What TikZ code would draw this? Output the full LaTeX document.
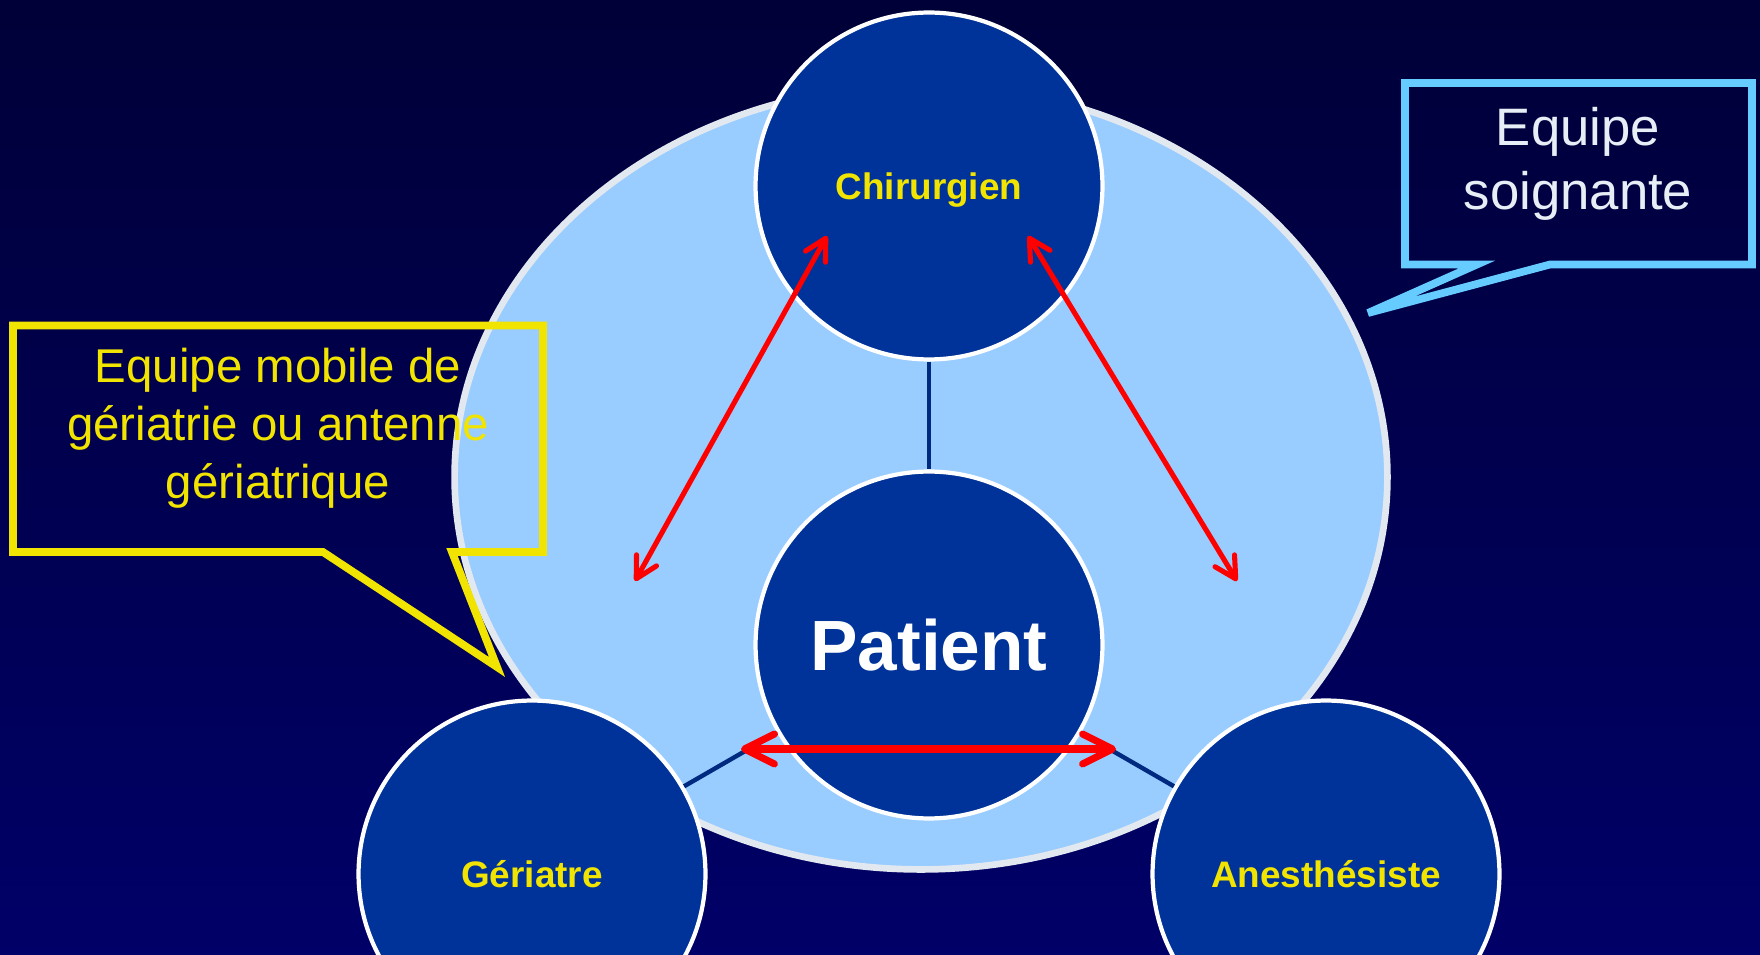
\documentclass[tikz,border=0pt]{standalone}
\usepackage{fontspec}
\setmainfont{Liberation Sans}
\usetikzlibrary{arrows.meta}

\definecolor{bgtop}{RGB}{0,0,56}
\definecolor{bgbottom}{RGB}{0,0,104}
\definecolor{teamfill}{RGB}{153,204,255}
\definecolor{teamedge}{RGB}{226,232,240}
\definecolor{rolefill}{RGB}{0,51,153}
\definecolor{linkcol}{RGB}{0,42,128}
\definecolor{gold}{RGB}{240,228,0}
\definecolor{sky}{RGB}{102,204,255}
\definecolor{paletext}{RGB}{232,238,245}

\tikzset{
  role/.style={circle, draw=white, line width=2.4pt, fill=rolefill, minimum size=6.94cm,
    inner sep=0pt, text depth=0pt, text=gold, font=\fontsize{21}{25}\selectfont\bfseries},
  link/.style={draw=linkcol, line width=2.5pt},
  collab/.style={red, line width=2.9pt,
    {Straight Barb[length=12pt,width=13pt,round]}-{Straight Barb[length=12pt,width=13pt,round]}},
  callout/.style={line width=4.4pt, line join=miter},
}

\begin{document}
\begin{tikzpicture}[x=0.02cm, y=-0.02cm]

  \useasboundingbox (0,0) rectangle (1760,955);
  \clip (0,0) rectangle (1760,955);
  \shade[top color=bgtop, bottom color=bgbottom] (0,0) rectangle (1760,955);

  \draw[teamedge, fill=teamfill, line width=3.8pt] (921,477) ellipse[x radius=9.33cm, y radius=7.85cm];

  \node[role] (chir) at (929,186) {Chirurgien};
  \node[role, text=white, font=\fontsize{40.5}{46}\selectfont\bfseries] (patient) at (929,645) {Patient};
  \node[role] (geria) at (532,874) {Gériatre};
  \node[role] (anest) at (1326,874) {Anesthésiste};

  \draw[link] (chir) -- (patient);
  \draw[link] (patient) -- (geria);
  \draw[link] (patient) -- (anest);

  \coordinate (chirL) at (827,236);
  \coordinate (geriaU) at (635,581);
  \coordinate (chirR) at (1028,236);
  \coordinate (anestU) at (1237,581);
  \coordinate (patL) at (741,749);
  \coordinate (patR) at (1116,749);

  \draw[collab] (chirL) -- (geriaU);
  \draw[collab] (chirR) -- (anestU);
  \draw[collab, line width=4pt,
    {Straight Barb[length=17pt,width=17pt,round]}-{Straight Barb[length=17pt,width=17pt,round]}] (patL) -- (patR);

  \draw[callout, gold] (13,325.5) -- (543,325.5) -- (543,552) -- (452,552) -- (497,667)
    -- (323,552) -- (13,552) -- cycle;
  \node[gold, align=center, font=\fontsize{27}{33}\selectfont] (mobile) at (278,428)
    {Equipe mobile de\\gériatrie ou antenne\\gériatrique};

  \draw[callout, sky] (1405,83) -- (1752,83) -- (1752,264.5) -- (1550,264.5) -- (1368,313)
    -- (1477,264.5) -- (1405,264.5) -- cycle;
  \node[paletext, align=center, font=\fontsize{30}{36.5}\selectfont] (soin) at (1578,163.5)
    {Equipe\\soignante};

\end{tikzpicture}
\end{document}
